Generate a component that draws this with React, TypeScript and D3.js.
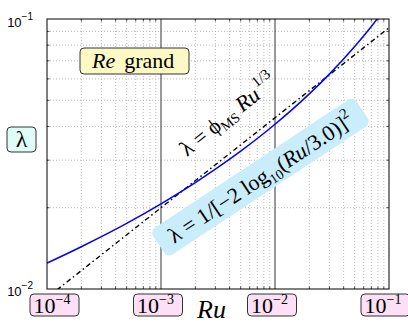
import React from "react";
import * as d3 from "d3";

// Data
const ruColebrook = [1e-4, 2e-4, 3e-4, 5e-4, 1e-3, 2e-3, 3e-3, 5e-3, 1e-2, 2e-2, 3e-2, 5e-2, 7e-2, 1e-1];
const lambdaColebrook = [0.01247, 0.01434, 0.01563, 0.01751, 0.02068, 0.02478, 0.02778, 0.03239, 0.04074, 0.05279, 0.0625, 0.07907, 0.09386, 0.1146];
const ruManning = [1e-4, 1e-3, 1e-2, 1e-1];
const lambdaManning = [0.00928, 0.02, 0.04309, 0.09283];
const xTicks = [1e-4, 1e-3, 1e-2, 1e-1];
const xTickExp = ["−4", "−3", "−2", "−1"];
const yTicks = [1e-2, 1e-1];
const yTickExp = ["−2", "−1"];

const W = 408, H = 325;
const L = 47, R = 389, T = 19, B = 289;

export default function App() {
  const x = d3.scaleLog().domain([1e-4, 1e-1]).range([L, R]);
  const y = d3.scaleLog().domain([1e-2, 1e-1]).range([B, T]);

  const minorX: number[] = [];
  for (let e = -4; e < -1; e++) for (let k = 2; k <= 9; k++) minorX.push(k * Math.pow(10, e));
  const minorY: number[] = [];
  for (let k = 2; k <= 9; k++) minorY.push(k * 1e-2);

  const lineC = d3.line<number>().x((d, i) => x(ruColebrook[i])).y((d) => y(d)).curve(d3.curveMonotoneX);
  const lineM = d3.line<number>().x((d, i) => x(ruManning[i])).y((d) => y(d));

  const serif = "'Liberation Serif', 'DejaVu Serif', serif";
  const sans = "'Liberation Sans', Arial, sans-serif";

  return (
    <svg width={W} height={H} style={{ position: "absolute", left: 0, top: 0, background: "#fff" }}>
      <defs>
        <clipPath id="plot">
          <rect x={L} y={T} width={R - L} height={B - T} />
        </clipPath>
      </defs>
      {/* grid */}
      {minorX.map((v, i) => (
        <line key={"gx" + i} x1={x(v)} x2={x(v)} y1={T} y2={B} stroke="#aaa" strokeWidth={0.8} strokeDasharray="1,2" />
      ))}
      {minorY.map((v, i) => (
        <line key={"gy" + i} x1={L} x2={R} y1={y(v)} y2={y(v)} stroke="#aaa" strokeWidth={0.8} strokeDasharray="1,2" />
      ))}
      {xTicks.slice(1, 3).map((v, i) => (
        <line key={"mx" + i} x1={x(v)} x2={x(v)} y1={T} y2={B} stroke="#333" strokeWidth={1} />
      ))}
      {/* ticks */}
      {minorX.map((v, i) => (
        <g key={"tx" + i} stroke="#000" strokeWidth={0.7}>
          <line x1={x(v)} x2={x(v)} y1={B} y2={B - 2.5} />
          <line x1={x(v)} x2={x(v)} y1={T} y2={T + 2.5} />
        </g>
      ))}
      {minorY.map((v, i) => (
        <g key={"ty" + i} stroke="#000" strokeWidth={0.7}>
          <line x1={L} x2={L + 2.5} y1={y(v)} y2={y(v)} />
          <line x1={R} x2={R - 2.5} y1={y(v)} y2={y(v)} />
        </g>
      ))}
      {/* curves */}
      <g clipPath="url(#plot)">
        <path d={lineM(lambdaManning) || ""} fill="none" stroke="#000" strokeWidth={1.4} strokeDasharray="5,3,1.5,3" />
        <path d={lineC(lambdaColebrook) || ""} fill="none" stroke="#0000ff" strokeWidth={1.5} />
      </g>
      <rect x={L} y={T} width={R - L} height={B - T} fill="none" stroke="#000" strokeWidth={1} />

      {/* y tick labels */}
      {yTicks.map((v, i) => (
        <text key={"yl" + i} x={L - 14} y={y(v) + (i === 0 ? 7 : 8)} fontFamily={sans} fontSize={13} textAnchor="end">
          10
          <tspan fontSize={10} dy={-7}>{yTickExp[i]}</tspan>
        </text>
      ))}
      {/* boxed x tick labels */}
      {xTicks.map((v, i) => {
        const cx = Math.min(Math.max(x(v) - 3, 54.5), 385.5);
        return (
          <g key={"bx" + i}>
            <rect x={cx - 24.5} y={294} width={49} height={22} rx={4} fill="#fde0f6" stroke="#333" strokeWidth={1} />
            <text x={cx - 21} y={313} fontFamily={serif} fontSize={22}>
              10
              <tspan fontSize={14} dy={-9}>{xTickExp[i]}</tspan>
            </text>
          </g>
        );
      })}
      {/* axis labels */}
      <text x={197} y={318} fontFamily={serif} fontStyle="italic" fontSize={26}>Ru</text>
      <rect x={7} y={127} width={29} height={25} rx={4} fill="#e0fcf6" stroke="#333" strokeWidth={1} />
      <text x={21.5} y={147} fontFamily={serif} fontSize={24} textAnchor="middle">λ</text>

      {/* Re grand */}
      <rect x={80} y={48} width={109} height={26} rx={4} fill="#fdf9c4" stroke="#333" strokeWidth={1} />
      <text x={92} y={68} fontFamily={serif} fontSize={22}>
        <tspan fontStyle="italic">Re</tspan>
        <tspan dx={9}>grand</tspan>
      </text>

      {/* Manning-Strickler label */}
      <g transform="translate(187,157) rotate(-38.5)">
        <text x={0} y={0} fontFamily={serif} fontSize={22}>
          {"λ = ϕ"}
          <tspan fontSize={14} dy={4}>MS</tspan>
          <tspan fontStyle="italic" dy={-4} dx={5}>Ru</tspan>
          <tspan fontSize={15} dy={-11} dx={2}>1/3</tspan>
        </text>
      </g>

      {/* Colebrook label */}
      <g transform="translate(261,178) rotate(-33.5)">
        <rect x={-122} y={-17} width={244} height={32} rx={6} fill="#c9edfa" />
        <text x={0} y={7} fontFamily={serif} fontSize={22} textAnchor="middle">
          {"λ = 1/[−2 log"}
          <tspan fontSize={14} dy={5}>10</tspan>
          <tspan dy={-5}>(</tspan>
          <tspan fontStyle="italic">Ru</tspan>
          <tspan>/3.0)]</tspan>
          <tspan fontSize={15} dy={-10}>2</tspan>
        </text>
      </g>
    </svg>
  );
}
